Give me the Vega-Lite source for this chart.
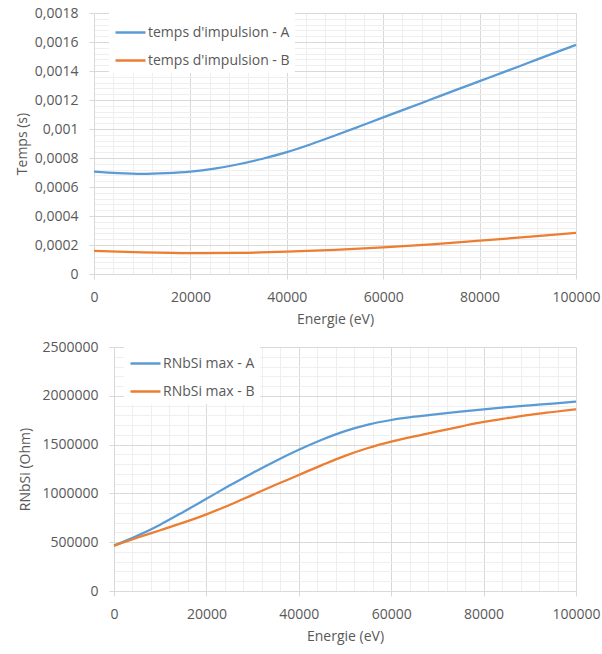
{
  "$schema": "https://vega.github.io/schema/vega-lite/v6.json",
  "padding": {"left": 15, "top": 6, "right": 5, "bottom": 5},
  "spacing": 14,
  "datasets": {
    "temps": [
      {"E": 0, "v": 0.000706, "s": "temps d'impulsion - A"},
      {"E": 5000, "v": 0.000695, "s": "temps d'impulsion - A"},
      {"E": 10000, "v": 0.000690, "s": "temps d'impulsion - A"},
      {"E": 15000, "v": 0.000695, "s": "temps d'impulsion - A"},
      {"E": 20000, "v": 0.000706, "s": "temps d'impulsion - A"},
      {"E": 25000, "v": 0.000727, "s": "temps d'impulsion - A"},
      {"E": 30000, "v": 0.000757, "s": "temps d'impulsion - A"},
      {"E": 35000, "v": 0.000795, "s": "temps d'impulsion - A"},
      {"E": 40000, "v": 0.000840, "s": "temps d'impulsion - A"},
      {"E": 45000, "v": 0.000895, "s": "temps d'impulsion - A"},
      {"E": 50000, "v": 0.000955, "s": "temps d'impulsion - A"},
      {"E": 55000, "v": 0.001017, "s": "temps d'impulsion - A"},
      {"E": 60000, "v": 0.001080, "s": "temps d'impulsion - A"},
      {"E": 65000, "v": 0.001142, "s": "temps d'impulsion - A"},
      {"E": 70000, "v": 0.001205, "s": "temps d'impulsion - A"},
      {"E": 75000, "v": 0.001268, "s": "temps d'impulsion - A"},
      {"E": 80000, "v": 0.001330, "s": "temps d'impulsion - A"},
      {"E": 85000, "v": 0.001392, "s": "temps d'impulsion - A"},
      {"E": 90000, "v": 0.001455, "s": "temps d'impulsion - A"},
      {"E": 95000, "v": 0.001518, "s": "temps d'impulsion - A"},
      {"E": 100000, "v": 0.001580, "s": "temps d'impulsion - A"},
      {"E": 0, "v": 0.000160, "s": "temps d'impulsion - B"},
      {"E": 10000, "v": 0.000149, "s": "temps d'impulsion - B"},
      {"E": 20000, "v": 0.000144, "s": "temps d'impulsion - B"},
      {"E": 30000, "v": 0.000146, "s": "temps d'impulsion - B"},
      {"E": 40000, "v": 0.000154, "s": "temps d'impulsion - B"},
      {"E": 50000, "v": 0.000167, "s": "temps d'impulsion - B"},
      {"E": 60000, "v": 0.000183, "s": "temps d'impulsion - B"},
      {"E": 70000, "v": 0.000204, "s": "temps d'impulsion - B"},
      {"E": 80000, "v": 0.000230, "s": "temps d'impulsion - B"},
      {"E": 90000, "v": 0.000256, "s": "temps d'impulsion - B"},
      {"E": 100000, "v": 0.000284, "s": "temps d'impulsion - B"}
    ],
    "rnbsi": [
      {"E": 0, "v": 465000, "s": "RNbSi max - A"},
      {"E": 5000, "v": 565000, "s": "RNbSi max - A"},
      {"E": 10000, "v": 680000, "s": "RNbSi max - A"},
      {"E": 15000, "v": 810000, "s": "RNbSi max - A"},
      {"E": 20000, "v": 945000, "s": "RNbSi max - A"},
      {"E": 25000, "v": 1080000, "s": "RNbSi max - A"},
      {"E": 30000, "v": 1210000, "s": "RNbSi max - A"},
      {"E": 35000, "v": 1333000, "s": "RNbSi max - A"},
      {"E": 40000, "v": 1447000, "s": "RNbSi max - A"},
      {"E": 45000, "v": 1550000, "s": "RNbSi max - A"},
      {"E": 50000, "v": 1638000, "s": "RNbSi max - A"},
      {"E": 55000, "v": 1705000, "s": "RNbSi max - A"},
      {"E": 60000, "v": 1752000, "s": "RNbSi max - A"},
      {"E": 65000, "v": 1786000, "s": "RNbSi max - A"},
      {"E": 70000, "v": 1813000, "s": "RNbSi max - A"},
      {"E": 75000, "v": 1838000, "s": "RNbSi max - A"},
      {"E": 80000, "v": 1862000, "s": "RNbSi max - A"},
      {"E": 85000, "v": 1884000, "s": "RNbSi max - A"},
      {"E": 90000, "v": 1903000, "s": "RNbSi max - A"},
      {"E": 95000, "v": 1921000, "s": "RNbSi max - A"},
      {"E": 100000, "v": 1940000, "s": "RNbSi max - A"},
      {"E": 0, "v": 465000, "s": "RNbSi max - B"},
      {"E": 5000, "v": 545000, "s": "RNbSi max - B"},
      {"E": 10000, "v": 622000, "s": "RNbSi max - B"},
      {"E": 15000, "v": 700000, "s": "RNbSi max - B"},
      {"E": 20000, "v": 785000, "s": "RNbSi max - B"},
      {"E": 25000, "v": 882000, "s": "RNbSi max - B"},
      {"E": 30000, "v": 985000, "s": "RNbSi max - B"},
      {"E": 35000, "v": 1088000, "s": "RNbSi max - B"},
      {"E": 40000, "v": 1189000, "s": "RNbSi max - B"},
      {"E": 45000, "v": 1290000, "s": "RNbSi max - B"},
      {"E": 50000, "v": 1385000, "s": "RNbSi max - B"},
      {"E": 55000, "v": 1465000, "s": "RNbSi max - B"},
      {"E": 60000, "v": 1530000, "s": "RNbSi max - B"},
      {"E": 65000, "v": 1585000, "s": "RNbSi max - B"},
      {"E": 70000, "v": 1635000, "s": "RNbSi max - B"},
      {"E": 75000, "v": 1685000, "s": "RNbSi max - B"},
      {"E": 80000, "v": 1732000, "s": "RNbSi max - B"},
      {"E": 85000, "v": 1770000, "s": "RNbSi max - B"},
      {"E": 90000, "v": 1805000, "s": "RNbSi max - B"},
      {"E": 95000, "v": 1834000, "s": "RNbSi max - B"},
      {"E": 100000, "v": 1862000, "s": "RNbSi max - B"}
    ]
  },
  "vconcat": [
    {
      "width": 482,
      "height": 261,
      "data": {"name": "temps"},
      "resolve": {"axis": {"x": "independent", "y": "independent"}},
      "layer": [
        {
          "mark": {"type": "line", "strokeOpacity": 0},
          "encoding": {
            "x": {"field": "E", "type": "quantitative", "scale": {"domain": [0, 100000], "nice": false},
              "axis": {"orient": "bottom", "values": [0,4000,8000,12000,16000,20000,24000,28000,32000,36000,40000,44000,48000,52000,56000,60000,64000,68000,72000,76000,80000,84000,88000,92000,96000,100000], "grid": true, "gridColor": "#efefef", "labels": false, "ticks": false, "domain": false, "title": null}},
            "y": {"field": "v", "type": "quantitative", "scale": {"domain": [0, 0.0018], "nice": false},
              "axis": {"orient": "left", "values": [0,0.00004,0.00008,0.00012,0.00016,0.0002,0.00024,0.00028,0.00032,0.00036,0.0004,0.00044,0.00048,0.00052,0.00056,0.0006,0.00064,0.00068,0.00072,0.00076,0.0008,0.00084,0.00088,0.00092,0.00096,0.001,0.00104,0.00108,0.00112,0.00116,0.0012,0.00124,0.00128,0.00132,0.00136,0.0014,0.00144,0.00148,0.00152,0.00156,0.0016,0.00164,0.00168,0.00172,0.00176,0.0018], "grid": true, "gridColor": "#efefef", "labels": false, "ticks": false, "domain": false, "title": null}},
            "detail": {"field": "s"}
          }
        },
        {
          "mark": {"type": "line", "interpolate": "monotone", "strokeWidth": 2.25},
          "encoding": {
            "x": {"field": "E", "type": "quantitative", "scale": {"domain": [0, 100000], "nice": false},
              "axis": {"orient": "bottom", "grid": true, "labelFlush": false, "values": [0,20000,40000,60000,80000,100000], "format": "d", "title": "Energie (eV)", "labelPadding": 11, "titlePadding": 8}},
            "y": {"field": "v", "type": "quantitative", "scale": {"domain": [0, 0.0018], "nice": false},
              "axis": {"orient": "left", "grid": true, "labelFlush": false, "values": [0,0.0002,0.0004,0.0006,0.0008,0.001,0.0012,0.0014,0.0016,0.0018], "labelExpr": "replace(format(datum.value, '.4~f'), '.', ',')", "title": "Temps (s)", "labelPadding": 11, "titlePadding": 5}},
            "color": {"field": "s", "type": "nominal",
              "scale": {"domain": ["temps d'impulsion - A", "temps d'impulsion - B"], "range": ["#5B9BD5", "#ED7D31"]},
              "legend": {"title": null, "orient": "none", "legendX": 15, "legendY": -2, "fillColor": "white", "padding": 5, "symbolType": "stroke", "symbolSize": 900, "symbolStrokeWidth": 2.5, "rowPadding": 4, "labelOffset": 1, "labelFontSize": 14, "labelColor": "#595959", "labelFont": "Open Sans"}}
          }
        }
      ]
    },
    {
      "width": 482,
      "height": 244,
      "data": {"name": "rnbsi"},
      "resolve": {"axis": {"x": "independent", "y": "independent"}},
      "layer": [
        {
          "mark": {"type": "line", "strokeOpacity": 0},
          "encoding": {
            "x": {"field": "E", "type": "quantitative", "scale": {"domain": [0, 100000], "nice": false, "range": [20, 482]},
              "axis": {"orient": "bottom", "values": [0,4000,8000,12000,16000,20000,24000,28000,32000,36000,40000,44000,48000,52000,56000,60000,64000,68000,72000,76000,80000,84000,88000,92000,96000,100000], "grid": true, "gridColor": "#efefef", "labels": false, "ticks": false, "domain": false, "title": null}},
            "y": {"field": "v", "type": "quantitative", "scale": {"domain": [0, 2500000], "nice": false},
              "axis": {"orient": "left", "offset": -20, "values": [0,100000,200000,300000,400000,500000,600000,700000,800000,900000,1000000,1100000,1200000,1300000,1400000,1500000,1600000,1700000,1800000,1900000,2000000,2100000,2200000,2300000,2400000,2500000], "grid": true, "gridColor": "#efefef", "labels": false, "ticks": false, "domain": false, "title": null}},
            "detail": {"field": "s"}
          }
        },
        {
          "mark": {"type": "line", "interpolate": "monotone", "strokeWidth": 2.25},
          "encoding": {
            "x": {"field": "E", "type": "quantitative", "scale": {"domain": [0, 100000], "nice": false, "range": [20, 482]},
              "axis": {"orient": "bottom", "grid": true, "labelFlush": false, "values": [0,20000,40000,60000,80000,100000], "format": "d", "title": "Energie (eV)", "labelPadding": 11, "titlePadding": 8}},
            "y": {"field": "v", "type": "quantitative", "scale": {"domain": [0, 2500000], "nice": false},
              "axis": {"orient": "left", "offset": -20, "grid": true, "labelFlush": false, "values": [0,500000,1000000,1500000,2000000,2500000], "format": "d", "title": "RNbSi (Ohm)", "labelPadding": 11, "titlePadding": 9}},
            "color": {"field": "s", "type": "nominal",
              "scale": {"domain": ["RNbSi max - A", "RNbSi max - B"], "range": ["#5B9BD5", "#ED7D31"]},
              "legend": {"title": null, "orient": "none", "legendX": 30, "legendY": -5, "fillColor": "white", "padding": 5, "symbolType": "stroke", "symbolSize": 900, "symbolStrokeWidth": 2.5, "rowPadding": 4, "labelOffset": 1, "labelFontSize": 14, "labelColor": "#595959", "labelFont": "Open Sans"}}
          }
        }
      ]
    }
  ],
  "resolve": {"scale": {"color": "independent"}},
  "config": {
    "view": {"stroke": null},
    "font": "Open Sans",
    "axis": {
      "labelFont": "Open Sans", "titleFont": "Open Sans",
      "labelColor": "#595959", "titleColor": "#595959",
      "labelFontSize": 14, "titleFontSize": 14, "titleFontWeight": "normal",
      "domainColor": "#d9d9d9", "tickColor": "#d9d9d9", "gridColor": "#d9d9d9",
      "tickSize": 5, "domainWidth": 1, "gridWidth": 1
    }
  }
}
